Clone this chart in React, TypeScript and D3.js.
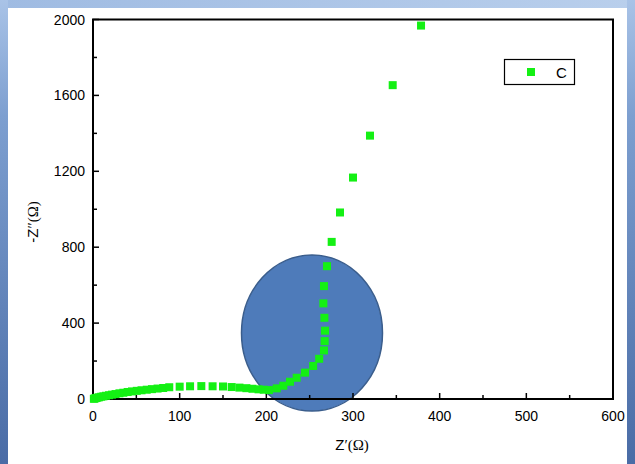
import React from 'react'
import * as d3 from 'd3'

// Nyquist data, series C (Z' and -Z'' in ohm)
const zReal = [
  1, 2, 3.5, 5, 7, 9.5, 12, 15, 18.5, 22, 26, 30.5, 35, 40, 45, 50.5, 56, 62, 68, 74.5, 81,
  88, 100, 112, 125, 138, 150, 160, 169, 177, 184, 191, 197, 203, 212, 219.6, 227.3, 235,
  244.6, 254, 261, 266.5, 267.3, 267.7, 267, 265.8, 266.5, 270, 275.4, 285, 300, 319.6,
  345.8, 378.5
]
const zImag = [
  1, 3, 5, 7, 9, 12, 14, 17, 20, 23, 26, 30, 33, 37, 40, 43, 46, 49, 52, 55, 58,
  62, 65, 67, 68, 67, 66, 63, 60, 57, 54, 51, 49, 47, 56, 70, 91, 112,
  139, 174, 212, 256, 305, 360, 428, 504, 595, 700, 828, 983, 1167, 1388,
  1654, 1968
]
const xTicks = [0, 100, 200, 300, 400, 500, 600]
const xMinor = [50, 150, 250, 350, 450, 550]
const yTicks = [0, 400, 800, 1200, 1600, 2000]
const yMinor = [200, 600, 1000, 1400, 1800]
const seriesName = 'C'

const W = 635
const H = 464
const FONT = '"Liberation Sans", Arial, sans-serif'
const GREEN = '#14f014'

const App = () => {
  const x = d3.scaleLinear().domain([0, 600]).range([93, 613])
  const y = d3.scaleLinear().domain([0, 2000]).range([399, 19.5])
  const pts = zReal.map((v, i) => [v, zImag[i]])

  return (
    <div style={{ position: 'fixed', left: 0, top: 0 }}>
      <svg width={W} height={H} style={{ display: 'block' }}>
        <defs>
          <linearGradient id="topBand" x1="0" x2="1" y1="0" y2="0">
            <stop offset="0" stopColor="#9fbbe2" />
            <stop offset="1" stopColor="#b9cfec" />
          </linearGradient>
          <linearGradient id="sideBand" x1="0" x2="0" y1="0" y2="1">
            <stop offset="0" stopColor="#a9c3e7" />
            <stop offset="0.25" stopColor="#7d9fd0" />
            <stop offset="1" stopColor="#4a6ca6" />
          </linearGradient>
        </defs>
        <rect x={0} y={0} width={W} height={H} fill="#ffffff" />
        {/* window frame */}
        <rect x={0} y={0} width={W} height={8} fill="url(#topBand)" />
        <rect x={0} y={0} width={8} height={H} fill="url(#sideBand)" />
        <rect x={627} y={0} width={8} height={H} fill="url(#sideBand)" />

        {/* highlight ellipse */}
        <ellipse cx={312} cy={333} rx={70.5} ry={78} fill="#4e7bba" stroke="#3a5d8c" strokeWidth={1.5} />

        {/* minor + major ticks, pointing inward */}
        <g stroke="#000" strokeWidth={1.5}>
          {xTicks.map(t => (
            <line key={'xt' + t} x1={x(t)} x2={x(t)} y1={399} y2={393} />
          ))}
          {xMinor.map(t => (
            <line key={'xm' + t} x1={x(t)} x2={x(t)} y1={399} y2={395} />
          ))}
          {yTicks.map(t => (
            <line key={'yt' + t} x1={93} x2={99} y1={y(t)} y2={y(t)} />
          ))}
          {yMinor.map(t => (
            <line key={'ym' + t} x1={93} x2={97} y1={y(t)} y2={y(t)} />
          ))}
        </g>
        <rect x={93} y={19.5} width={520} height={379.5} fill="none" stroke="#000" strokeWidth={2} />

        {/* tick labels */}
        <g fontFamily={FONT} fontSize={14} fill="#000">
          {xTicks.map(t => (
            <text key={'xl' + t} x={x(t)} y={421} textAnchor="middle">{t}</text>
          ))}
          {yTicks.map(t => (
            <text key={'yl' + t} x={85} y={y(t) + 5} textAnchor="end">{t}</text>
          ))}
        </g>

        {/* axis titles */}
        <text x={352} y={450} fontFamily={FONT} fontSize={15} textAnchor="middle" fill="#000">
          Z<tspan fontFamily='"Liberation Serif", "Times New Roman", serif'>′(Ω)</tspan>
        </text>
        <text
          transform="translate(38,222) rotate(-90)"
          fontFamily={FONT}
          fontSize={15}
          textAnchor="middle"
          fill="#000"
        >
          -Z<tspan fontFamily='"Liberation Serif", "Times New Roman", serif'>″(Ω)</tspan>
        </text>

        {/* data */}
        <g fill={GREEN}>
          {pts.map((p, i) => (
            <rect key={i} x={x(p[0]) - 4} y={y(p[1]) - 4} width={8} height={8} />
          ))}
        </g>

        {/* legend */}
        <rect x={504.5} y={59.5} width={70} height={25} fill="#fff" stroke="#000" strokeWidth={1.2} />
        <rect x={527} y={68} width={8} height={8} fill={GREEN} />
        <text x={556} y={78} fontFamily={FONT} fontSize={15} fill="#000">{seriesName}</text>
      </svg>
    </div>
  )
}

export default App
